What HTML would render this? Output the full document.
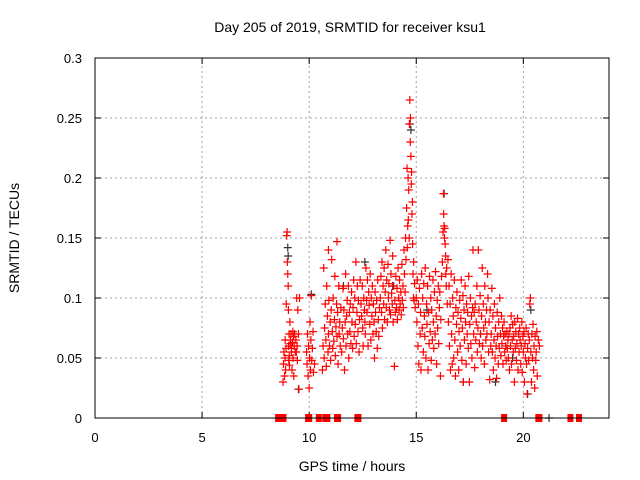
<!DOCTYPE html>
<html><head><meta charset="utf-8"><style>
body{margin:0;background:#fff;}
svg{display:block;font-family:"Liberation Sans",sans-serif;}
</style></head><body>
<svg id="chart" width="640" height="480" viewBox="0 0 640 480">
<text x="350" y="32" text-anchor="middle" font-size="14">Day 205 of 2019, SRMTID for receiver ksu1</text>
<text x="352" y="471" text-anchor="middle" font-size="14">GPS time / hours</text>
<text transform="translate(19,238) rotate(-90)" text-anchor="middle" font-size="14">SRMTID / TECUs</text>
<g id="grid"></g>
<g id="ticks"></g>
<g id="black"></g>
<g id="red"></g>
<rect x="95" y="58" width="514" height="360" fill="none" stroke="#000" stroke-width="1"/>
</svg>
<script>
const xTicks=[0,5,10,15,20];
const yTicks=[0,0.05,0.1,0.15,0.2,0.25,0.3];
const yTickLabels=["0","0.05","0.1","0.15","0.2","0.25","0.3"];
const tA=[8.78,8.80,8.82,8.85,8.87,8.88,8.90,8.92,8.93,8.95,8.97,8.98,9.00,9.02,9.03,9.04,9.05,9.06,9.07,9.08,9.10,9.12,9.13,9.15,9.17,9.18,9.20,9.22,9.24,9.25,9.27,9.28,9.30,9.32,9.35];
const vA=[.030,.045,.055,.035,.050,.065,.040,.058,.095,.152,.155,.130,.120,.110,.090,.060,.048,.070,.052,.044,.080,.062,.065,.070,.055,.058,.040,.063,.072,.050,.068,.035,.060,.070,.055];
const tB=[9.38,9.40,9.42,9.44,9.45,9.47,9.50,9.52,9.55];
const vB=[.065,.055,.10,.06,.048,.09,.07,.024,.10];
const tC=[9.88,9.90,9.92,9.95,9.97,10.00,10.02,10.04,10.06,10.08,10.10,10.12,10.15,10.18,10.20,10.25];
const vC=[.055,.045,.070,.035,.060,.025,.050,.080,.040,.065,.102,.048,.058,.072,.038,.045];
const tD=[10.62,10.65,10.68,10.70,10.72,10.75,10.78,10.80,10.82,10.85,10.88,10.90,10.92,10.95,10.98,11.00,11.03,11.05,11.08,11.10,11.12,11.15,11.18,11.20,11.22,11.25,11.28,11.30,11.33,11.35,11.38,11.40,11.43,11.45,11.48,10.90,11.30];
const vD=[.040,.060,.125,.050,.075,.095,.065,.043,.110,.085,.055,.070,.098,.060,.080,.048,.090,.132,.072,.058,.100,.064,.082,.118,.052,.076,.095,.068,.088,.045,.110,.070,.080,.060,.092,.140,.147];
const tE=[11.52,11.55,11.58,11.60,11.62,11.65,11.68,11.70,11.72,11.75,11.78,11.80,11.83,11.85,11.88,11.90,11.92,11.95,11.98,12.00,12.03,12.05,12.08,12.10,12.13,12.15,12.18,12.20,12.23,12.25,12.28,12.30,12.33,12.35,12.38];
const vE=[.055,.075,.108,.066,.090,.040,.080,.120,.060,.085,.098,.070,.110,.050,.088,.072,.095,.062,.105,.080,.058,.092,.115,.068,.100,.078,.130,.062,.088,.110,.072,.098,.055,.082,.115];
const tF=[12.42,12.45,12.48,12.50,12.52,12.55,12.58,12.60,12.62,12.65,12.68,12.70,12.72,12.75,12.78,12.80,12.83,12.85,12.88,12.90,12.93,12.95,12.98,13.00,13.03,13.05,13.08,13.10,13.13,13.15,13.18,13.20,13.23,13.25,13.28];
const vF=[.095,.085,.110,.075,.060,.100,.090,.080,.070,.125,.098,.088,.115,.060,.105,.094,.078,.120,.065,.100,.085,.110,.070,.095,.080,.050,.105,.088,.072,.098,.058,.115,.082,.068,.092];
const tG=[13.32,13.35,13.38,13.40,13.42,13.45,13.48,13.50,13.52,13.55,13.58,13.60,13.62,13.65,13.68,13.70,13.72,13.75,13.78,13.80,13.82,13.85,13.88,13.90,13.92,13.95,13.98,14.00,14.02,14.05,14.08,14.10,14.12,14.15,14.18,14.20,14.22,14.25,14.28,14.30,14.33,14.35,14.38,14.40,14.43,14.45,14.48];
const vG=[.100,.118,.088,.130,.075,.110,.095,.125,.082,.105,.140,.092,.115,.080,.128,.100,.112,.090,.148,.086,.120,.104,.095,.135,.080,.110,.043,.098,.088,.118,.092,.108,.082,.125,.100,.090,.115,.095,.105,.086,.128,.098,.110,.092,.140,.120,.105];
const tH=[14.50,14.52,14.55,14.57,14.58,14.60,14.62,14.63,14.65,14.67,14.68,14.70,14.72,14.73,14.75,14.77,14.78,14.80,14.82,14.83,14.85,14.87,14.88,14.90,14.92,14.95];
const vH=[.150,.132,.175,.208,.142,.160,.200,.165,.190,.150,.245,.265,.230,.250,.218,.195,.205,.170,.180,.145,.120,.100,.130,.098,.112,.092];
const tI=[15.00,15.03,15.05,15.08,15.10,15.12,15.15,15.18,15.20,15.22,15.25,15.28,15.30,15.33,15.35,15.38,15.40,15.42,15.45,15.48,15.50,15.53,15.55,15.58,15.60,15.62,15.65,15.68,15.70,15.72,15.75,15.78,15.80,15.82,15.85,15.88,15.90,15.93,15.95,15.98,16.00,16.03,16.05,16.08,16.10,16.13,16.15,16.18];
const vI=[.100,.080,.115,.060,.095,.045,.108,.070,.088,.040,.120,.075,.100,.055,.112,.085,.068,.125,.050,.095,.078,.110,.040,.088,.062,.118,.072,.100,.048,.090,.065,.115,.080,.058,.105,.070,.122,.085,.045,.098,.075,.110,.062,.092,.105,.035,.082,.118];
const tJ=[16.22,16.25,16.27,16.28,16.30,16.32,16.33,16.35,16.37,16.38,16.40,16.42,16.45,16.48];
const vJ=[.130,.155,.187,.170,.160,.150,.158,.145,.135,.120,.110,.125,.095,.132];
const tK=[16.50,16.53,16.55,16.58,16.60,16.63,16.65,16.68,16.70,16.73,16.75,16.78,16.80,16.83,16.85,16.88,16.90,16.93,16.95,16.98,17.00,17.03,17.05,17.08,17.10,17.13,17.15,17.18,17.20,17.23,17.25,17.28,17.30,17.33,17.35,17.38,17.40,17.43,17.45,17.48,17.50,17.53,17.55,17.58,17.60,17.63,17.65,17.68,17.70,17.73,17.75,17.78,17.80,17.83,17.85,17.88,17.90,17.93,17.95,17.98,18.00,18.03,18.05,18.08,18.10,18.13,18.15,18.18,18.20,18.23,18.25,18.28,18.30,18.33,18.35,18.38,18.40,18.43,18.45,18.48];
const vK=[.080,.110,.060,.095,.040,.120,.070,.045,.100,.085,.050,.115,.065,.035,.092,.078,.105,.055,.088,.040,.072,.098,.060,.083,.115,.048,.075,.102,.030,.090,.065,.110,.080,.045,.095,.070,.088,.058,.118,.030,.078,.100,.062,.085,.050,.092,.140,.070,.088,.042,.095,.065,.080,.110,.055,.075,.140,.090,.062,.102,.070,.050,.085,.125,.060,.095,.075,.045,.110,.080,.065,.090,.070,.120,.100,.055,.080,.032,.090,.060];
const tL=[18.50,18.53,18.55,18.58,18.60,18.63,18.65,18.68,18.70,18.73,18.75,18.78,18.80,18.83,18.85,18.88,18.90,18.93,18.95,18.98,19.00,19.03,19.05,19.08,19.10,19.13,19.15,19.18,19.20,19.23,19.25,19.28];
const vL=[.070,.108,.055,.085,.040,.065,.095,.050,.075,.060,.033,.088,.068,.045,.080,.058,.100,.070,.052,.085,.062,.075,.045,.068,.080,.055,.070,.060,.048,.072,.058,.065];
const tM=[19.30,19.33,19.35,19.38,19.40,19.43,19.45,19.48,19.50,19.53,19.55,19.58,19.60,19.63,19.65,19.68,19.70,19.73,19.75,19.78,19.80,19.83,19.85,19.88,19.90,19.93,19.95,19.98,20.00,20.03,20.05,20.08,20.10,20.13,20.15,20.18,20.20,20.23,20.25,20.28,20.30,20.33,20.35,20.38,20.40,20.43,20.45,20.48,20.50,20.53,20.55,20.58,20.60,20.63,20.65,20.70,20.75];
const vM=[.050,.070,.040,.075,.060,.085,.045,.065,.078,.055,.068,.030,.080,.058,.072,.048,.062,.083,.040,.070,.055,.075,.065,.045,.060,.080,.038,.068,.055,.072,.030,.062,.050,.075,.045,.020,.058,.070,.048,.065,.095,.100,.055,.030,.070,.050,.078,.040,.060,.025,.068,.048,.055,.072,.035,.065,.060];
const tZero=[8.55,8.60,8.65,8.70,8.75,8.80,9.95,10.00,10.45,10.75,10.85,11.30,11.35,12.25,12.30,19.10,20.70,20.75,22.20,22.60];
const vZero=[0,0,0,0,0,0,0,0,0,0,0,0,0,0,0,0,0,0,0,0];
const tBlack=[9.00,9.02,9.50,10.10,11.60,12.60,13.90,14.70,14.75,15.50,16.30,17.20,18.00,18.70,19.50,20.20,20.35,21.20];
const vBlack=[.142,.135,.024,.103,.11,.13,.11,.245,.24,.09,.187,.03,.07,.03,.05,.02,.09,0];

const X0=95,X1=609,Y0=418,Y1=58,XMAX=24,YMAX=0.3;
const xs=t=>X0+(X1-X0)*t/XMAX;
const ys=v=>Y0-(Y0-Y1)*v/YMAX;
const NS="http://www.w3.org/2000/svg";
function mk(tag,parent,attrs){const e=document.createElementNS(NS,tag);for(const k in attrs)e.setAttribute(k,attrs[k]);parent.appendChild(e);return e;}
const grid=document.getElementById('grid'),ticks=document.getElementById('ticks');
xTicks.forEach(t=>{
  const x=xs(t);
  if(t>0){const g=mk('line',grid,{x1:x,x2:x,y1:Y0,y2:Y1,stroke:'#a0a0a0','stroke-dasharray':'2,3'});
  
  }
  mk('line',ticks,{x1:x,x2:x,y1:Y0,y2:Y0-6,stroke:'#000'});
  mk('line',ticks,{x1:x,x2:x,y1:Y1,y2:Y1+6,stroke:'#000'});
  const l=mk('text',ticks,{x:x,y:442,'text-anchor':'middle','font-size':'13'});
  l.textContent=String(t);
  
  
});
yTicks.forEach((v,i)=>{
  const y=ys(v);
  if(v>0&&v<YMAX){const g=mk('line',grid,{x1:X0,x2:X1,y1:y,y2:y,stroke:'#a0a0a0','stroke-dasharray':'2,3'});
  
  }
  mk('line',ticks,{x1:X0,x2:X0+6,y1:y,y2:y,stroke:'#000'});
  mk('line',ticks,{x1:X1,x2:X1-6,y1:y,y2:y,stroke:'#000'});
  const l=mk('text',ticks,{x:82,y:y+5,'text-anchor':'end','font-size':'13'});
  l.textContent=yTickLabels[i];
  
  
});
function plus(parent,t,v,color){
  const x=xs(t),y=ys(v);
  const p=mk('path',parent,{d:`M${x-4},${y}H${x+4}M${x},${y-4}V${y+4}`,stroke:color,'stroke-width':'1.2',fill:'none'});
  
  
}
function zeroMark(parent,t,v){
  const r=mk('rect',parent,{x:xs(t)-3,y:ys(v)-4,width:6,height:8,fill:'#ff0000'});
  
  
}
const blackG=document.getElementById('black'),redG=document.getElementById('red');
for(let i=0;i<Math.min(tBlack.length,vBlack.length);i++)plus(blackG,tBlack[i],vBlack[i],'#333');
const redGroups=[[tA,vA],[tB,vB],[tC,vC],[tD,vD],[tE,vE],[tF,vF],[tG,vG],[tH,vH],[tI,vI],[tJ,vJ],[tK,vK],[tL,vL],[tM,vM]];
redGroups.forEach(([ts,vs])=>{for(let i=0;i<Math.min(ts.length,vs.length);i++)plus(redG,ts[i],vs[i],'#ff0000');});
for(let i=0;i<Math.min(tZero.length,vZero.length);i++)zeroMark(redG,tZero[i],vZero[i]);
</script>
</body></html>
